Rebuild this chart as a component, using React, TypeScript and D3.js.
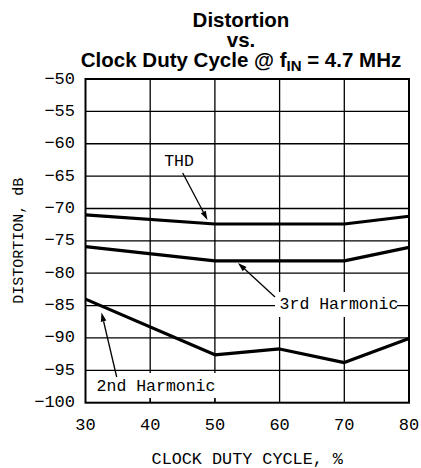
import * as d3 from "d3";

const duty = [30, 50, 60, 70, 80];
const thd = [-71.0, -72.4, -72.4, -72.4, -71.2];
const third = [-75.9, -78.1, -78.1, -78.1, -76.0];
const second = [-84.0, -92.6, -91.7, -93.8, -90.1];
const xTicks = [30, 40, 50, 60, 70, 80];
const yTicks = [-50, -55, -60, -65, -70, -75, -80, -85, -90, -95, -100];

const W = 421;
const H = 468;
const margin = { left: 85.5, right: 12, top: 79, bottom: 65.3 };
const mono = "'Liberation Mono', 'DejaVu Sans Mono', monospace";

function Arrow({ x1, y1, x2, y2 }: { x1: number; y1: number; x2: number; y2: number }) {
  // line with a filled head at (x2, y2)
  const ang = Math.atan2(y2 - y1, x2 - x1);
  const len = 9;
  const half = 2.8;
  const bx = x2 - len * Math.cos(ang);
  const by = y2 - len * Math.sin(ang);
  const px = -Math.sin(ang) * half;
  const py = Math.cos(ang) * half;
  return (
    <g>
      <line x1={x1} y1={y1} x2={bx} y2={by} stroke="#000" strokeWidth={1.3} />
      <path d={`M${x2},${y2}L${bx + px},${by + py}L${bx - px},${by - py}Z`} fill="#000" />
    </g>
  );
}

export default function App() {
  const x = d3.scaleLinear().domain([30, 80]).range([margin.left, W - margin.right]);
  const y = d3.scaleLinear().domain([-100, -50]).range([H - margin.bottom, margin.top]);
  const [x0, x1] = x.range();
  const [y0, y1] = [y(-50), y(-100)];

  const line = (vals: number[]) =>
    d3
      .line<number>()
      .x((_, i) => x(duty[i]))
      .y((d) => y(d))(vals) ?? "";

  return (
    <svg width={W} height={H} style={{ position: "absolute", left: 0, top: 0, background: "#fff" }}>
      {/* title */}
      <g fontFamily="'Liberation Sans', Arial, sans-serif" fontWeight="bold" fontSize={20.5} textAnchor="middle" fill="#000">
        <text x={241} y={26.5}>Distortion</text>
        <text x={241} y={47}>vs.</text>
        <text x={241} y={66.5}>
          Clock Duty Cycle @ f<tspan fontSize={15} dy={4.5}>IN</tspan>
          <tspan dy={-4.5}> = 4.7 MHz</tspan>
        </text>
      </g>

      {/* grid */}
      <g stroke="#000" strokeWidth={1.3}>
        {xTicks.slice(1, -1).map((t) => (
          <line key={"gx" + t} x1={x(t)} x2={x(t)} y1={y0} y2={y1} />
        ))}
        {yTicks.slice(1, -1).map((t) => (
          <line key={"gy" + t} x1={x0} x2={x1} y1={y(t)} y2={y(t)} />
        ))}
      </g>

      {/* curves */}
      <g fill="none" stroke="#000" strokeWidth={3.2} strokeLinejoin="round">
        <path d={line(thd)} />
        <path d={line(third)} />
        <path d={line(second)} />
      </g>

      {/* label backgrounds */}
      <rect x={275} y={292} width={122} height={25} fill="#fff" />
      <rect x={92} y={373} width={130} height={25} fill="#fff" />
      {/* ticks poking into the 2nd harmonic box */}
      <g stroke="#000" strokeWidth={1.3}>
        <line x1={x(40)} x2={x(40)} y1={y1 - 4.5} y2={y1} />
        <line x1={x(50)} x2={x(50)} y1={y1 - 4.5} y2={y1} />
      </g>

      {/* frame */}
      <rect x={x0} y={y0} width={x1 - x0} height={y1 - y0} fill="none" stroke="#000" strokeWidth={2} />

      {/* annotations */}
      <g fontFamily={mono} fontSize={16.5} fill="#000">
        <text x={179} y={161} textAnchor="middle" dominantBaseline="central">THD</text>
        <text x={339} y={304.5} textAnchor="middle" dominantBaseline="central">3rd Harmonic</text>
        <text x={156} y={386} textAnchor="middle" dominantBaseline="central">2nd Harmonic</text>
      </g>
      <Arrow x1={182.7} y1={173} x2={207.5} y2={220} />
      <Arrow x1={275} y1={297} x2={238} y2={263} />
      <Arrow x1={116.7} y1={377} x2={101.5} y2={312.5} />

      {/* y ticks */}
      <g fontFamily={mono} fontSize={17} fill="#000" textAnchor="end">
        {yTicks.map((t) => (
          <text key={"ty" + t} x={75} y={y(t)} dominantBaseline="central">
            {t < 0 ? "\u2212" + Math.abs(t) : t}
          </text>
        ))}
      </g>
      {/* x ticks */}
      <g fontFamily={mono} fontSize={17} fill="#000" textAnchor="middle">
        {xTicks.map((t) => (
          <text key={"tx" + t} x={x(t)} y={430}>
            {t}
          </text>
        ))}
      </g>

      <text x={(x0 + x1) / 2} y={463.5} textAnchor="middle" fontFamily={mono} fontSize={16.8} fill="#000">
        CLOCK DUTY CYCLE, %
      </text>
      <text
        transform={`translate(23,${(y0 + y1) / 2}) rotate(-90)`}
        textAnchor="middle"
        fontFamily={mono}
        fontSize={15}
        fill="#000"
      >
        DISTORTION, dB
      </text>
    </svg>
  );
}
